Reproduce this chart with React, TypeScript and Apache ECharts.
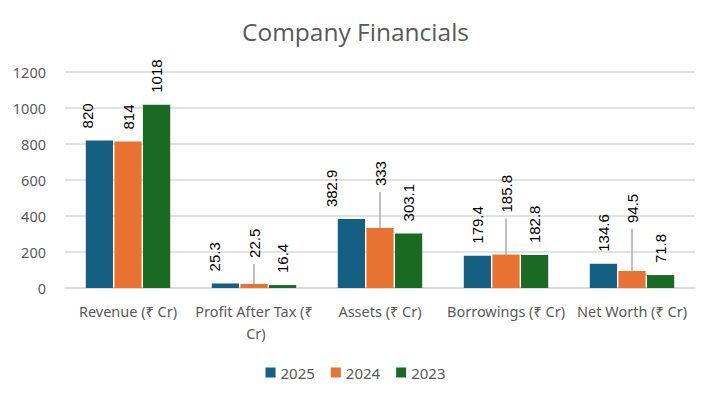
import React, { useEffect, useRef } from "react";
import * as echarts from "echarts";

const categories = [
  "Revenue (₹ Cr)",
  "Profit After Tax (₹ Cr)",
  "Assets (₹ Cr)",
  "Borrowings (₹ Cr)",
  "Net Worth (₹ Cr)",
];
const years = ["2025", "2024", "2023"];
const values2025 = [820, 25.3, 382.9, 179.4, 134.6];
const values2024 = [814, 22.5, 333, 185.8, 94.5];
const values2023 = [1018, 16.4, 303.1, 182.8, 71.8];
const yTicks = [0, 200, 400, 600, 800, 1000, 1200];

const colors = ["#156082", "#E97132", "#196B24"];

export default function App() {
  const ref = useRef<HTMLDivElement>(null);
  useEffect(() => {
    document.body.style.margin = "0";
    if (!ref.current) return;
    const chart = echarts.init(ref.current, undefined, { renderer: "svg" });
    const seriesData = [values2025, values2024, values2023];
    const labelDistance = 12;
    // label nudges (pixels) as placed in the original: [along text (up), across text]
    const nudges = [
      [[0, -12], [0, -11], [0, -20], [0, 0], [0, 0]],
      [[0, 0], [14, 0], [30, 0], [30, 0], [36, 0]],
      [[0, 0], [0, 0], [0, 0], [0, 0], [0, 0]],
    ];
    const labelFont = "'Liberation Sans', Arial, sans-serif";
    const uiFont = "'Noto Sans', sans-serif";
    const barSeries = years.map((y, si) => ({
      name: y,
      type: "bar",
      data: seriesData[si],
      barGap: "5%",
      barCategoryGap: "33%",
      label: {
        show: true,
        position: "top",
        rotate: 90,
        align: "left",
        verticalAlign: "middle",
        distance: labelDistance,
        fontFamily: labelFont,
        fontSize: 15,
        color: "#000000",
      },
      labelLayout: (params: any) => ({
        dx: nudges[si][params.dataIndex][0],
        dy: nudges[si][params.dataIndex][1],
      }),
    }));
    // leader lines for the lifted 2024 labels (middle bar = category centre)
    const leaderSeries = {
      name: "leaders",
      type: "custom",
      silent: true,
      z: 3,
      data: values2024.map((v, i) => [i, v]),
      renderItem: (params: any, api: any) => {
        const i = api.value(0);
        const lift = nudges[1][i][0];
        if (!lift) return null;
        const p = api.coord([i, api.value(1)]);
        return {
          type: "line",
          shape: {
            x1: p[0],
            y1: p[1],
            x2: p[0],
            y2: p[1] - (labelDistance + lift - 6),
          },
          style: { stroke: "#a6a6a6", lineWidth: 1.4 },
        };
      },
    };
    chart.setOption({
      animation: false,
      backgroundColor: "#ffffff",
      title: {
        text: "Company Financials",
        left: "center",
        top: 14,
        textStyle: {
          fontFamily: "'Open Sans', 'Noto Sans', sans-serif",
          fontSize: 24.5,
          fontWeight: "normal",
          color: "#595959",
        },
      },
      color: colors,
      legend: {
        data: years,
        bottom: 8,
        left: "center",
        icon: "rect",
        itemWidth: 10,
        itemHeight: 10,
        itemGap: 16,
        textStyle: {
          fontFamily: uiFont,
          fontSize: 15,
          color: "#595959",
        },
      },
      grid: { left: 65, right: 16, top: 72, bottom: 105, containLabel: false },
      xAxis: {
        type: "category",
        data: categories,
        axisTick: { show: false },
        axisLine: { lineStyle: { color: "#d9d9d9", width: 1.5 } },
        axisLabel: {
          interval: 0,
          margin: 12,
          width: 126,
          overflow: "break",
          lineHeight: 22,
          fontFamily: uiFont,
          fontSize: 14.5,
          color: "#595959",
        },
      },
      yAxis: {
        type: "value",
        min: yTicks[0],
        max: yTicks[yTicks.length - 1],
        interval: 200,
        axisLine: { show: false },
        axisTick: { show: false },
        splitLine: { lineStyle: { color: "#d9d9d9", width: 1.5 } },
        axisLabel: {
          margin: 19,
          formatter: (v: number) => String(v),
          fontFamily: uiFont,
          fontSize: 14.5,
          color: "#595959",
        },
      },
      series: [...barSeries, leaderSeries],
    });
    return () => chart.dispose();
  }, []);
  return <div ref={ref} style={{ width: 711, height: 393 }} />;
}
